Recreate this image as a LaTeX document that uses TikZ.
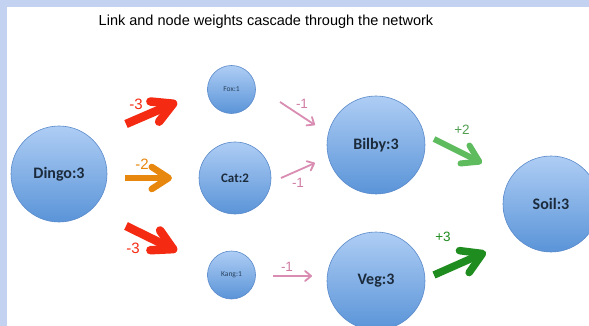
\documentclass[tikz,border=0pt]{standalone}
\usepackage{fontspec}
\setmainfont{Liberation Sans}
\newfontfamily\nodefont{Carlito}
\usetikzlibrary{arrows.meta}

\definecolor{frameblue}{HTML}{C3D2F0}
\definecolor{balltop}{HTML}{AECDF4}
\definecolor{ballbot}{HTML}{5A94D8}
\definecolor{ballrim}{HTML}{5A8ACB}
\definecolor{balltext}{HTML}{1C2B3C}
\definecolor{wred}{HTML}{F52A12}
\definecolor{worange}{HTML}{E8870E}
\definecolor{wpink}{HTML}{DA8DB2}
\definecolor{wpinktext}{HTML}{D07CA4}
\definecolor{wlgreen}{HTML}{5EBB5E}
\definecolor{wdgreen}{HTML}{1E8C1E}

\tikzset{
  species/.style={circle, inner sep=0pt, top color=balltop, bottom color=ballbot,
    draw=ballrim, line width=0.6pt, text=balltext, font=\nodefont\bfseries},
  bigball/.style={species, minimum size=#1},
  weightarrow/.style 2 args={line cap=butt,
    -{Straight Barb[length=#1, width=#2, line cap=round, line join=round]}},
  weightlabel/.style={inner sep=0pt, font=\fontsize{15}{15}\selectfont},
  smalllabel/.style={inner sep=0pt, font=\fontsize{13.5}{13.5}\selectfont},
  bigname/.style={font=\nodefont\bfseries\fontsize{16}{16}\selectfont},
  tinyname/.style={font=\nodefont\fontsize{7.5}{7.5}\selectfont, text=balltext!80!ballbot},
}

\begin{document}
\begin{tikzpicture}[x=1pt, y=-1pt]
  \useasboundingbox (0,0) rectangle (589,326);
  % frame bands along the top and left edges
  \fill[frameblue] (0,0) rectangle (589,326);
  \fill[white] (7,7) rectangle (589,326);

  \begin{scope}
    \clip (7,7) rectangle (589,326);

    \node[font=\fontsize{14.5}{15}\selectfont] (title) at (266,22)
      {Link and node weights cascade through the network};

    % species nodes
    \node[bigball=96pt, bigname] (dingo) at (59,174) {Dingo:3};
    \node[bigball=48pt, tinyname] (fox) at (231.5,89.5) {Fox:1};
    \node[bigball=72pt, font=\nodefont\bfseries\fontsize{13}{13}\selectfont] (cat) at (235,178) {Cat:2};
    \node[bigball=48pt, tinyname] (kang) at (231.5,275) {Kang:1};
    \node[bigball=98pt, bigname] (bilby) at (376,145) {Bilby:3};
    \node[bigball=98pt, bigname] (veg) at (376,281) {Veg:3};
    \node[bigball=96pt, bigname] (soil) at (551,204) {Soil:3};

    % arrow end points between the species
    \coordinate (dfS) at (126,124);  \coordinate (dfE) at (177,102);
    \coordinate (dcS) at (125,178);  \coordinate (dcE) at (172,178);
    \coordinate (dkS) at (126,226);  \coordinate (dkE) at (177,251);
    \coordinate (fbS) at (280,102);  \coordinate (fbE) at (315,125);
    \coordinate (cbS) at (281,178);  \coordinate (cbE) at (315,163);
    \coordinate (kvS) at (273,276);  \coordinate (kvE) at (312,276);
    \coordinate (bsS) at (434,139);  \coordinate (bsE) at (482,163);
    \coordinate (vsS) at (434,275);  \coordinate (vsE) at (486,252);

    % weighted links
    \draw[wred, line width=8.5pt, weightarrow={20pt}{22pt}] (dfS) -- (dfE);
    \draw[worange, line width=6.5pt, weightarrow={17pt}{22pt}] (dcS) -- (dcE);
    \draw[wred, line width=8.5pt, weightarrow={20pt}{22pt}] (dkS) -- (dkE);
    \draw[wpink, line width=1.8pt, weightarrow={6pt}{10pt}] (fbS) -- (fbE);
    \draw[wpink, line width=1.8pt, weightarrow={6pt}{10pt}] (cbS) -- (cbE);
    \draw[wpink, line width=1.8pt, weightarrow={6pt}{10pt}] (kvS) -- (kvE);
    \draw[wlgreen, line width=6pt, weightarrow={16pt}{20pt}] (bsS) -- (bsE);
    \draw[wdgreen, line width=7.5pt, weightarrow={20pt}{24pt}] (vsS) -- (vsE);

    % link weights
    \node[weightlabel, text=wred] (wdf) at (136,104) {-3};
    \node[weightlabel, text=worange] (wdc) at (142,164) {-2};
    \node[weightlabel, text=wred] (wdk) at (133,248) {-3};
    \node[smalllabel, text=wpinktext] (wfb) at (302,104) {-1};
    \node[smalllabel, text=wpinktext] (wcb) at (298,183) {-1};
    \node[smalllabel, text=wpinktext] (wkv) at (287,267) {-1};
    \node[smalllabel, text=wlgreen!85!black] (wbs) at (462,130) {+2};
    \node[smalllabel, text=wdgreen] (wvs) at (443,237) {+3};
  \end{scope}
\end{tikzpicture}
\end{document}
